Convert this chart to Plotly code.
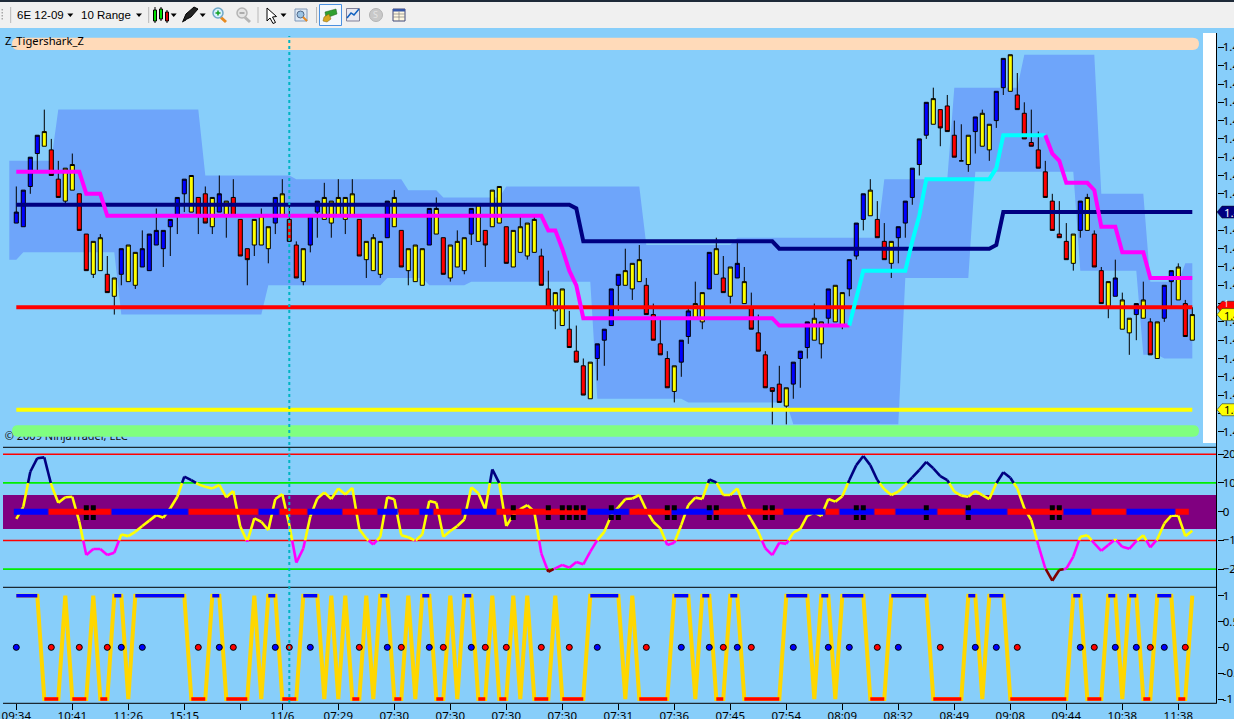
import numpy as np
import plotly.graph_objects as go

W, H = 1234, 719

# candles, in pips above 1.4700
bar_color = ("BBBBYRRYYRRYYRYBYYBBBBBBBYRRYBYRRRYYYBYRRYBBYYYYYRYYYBYRYYYBYRYYYBYRYYRYYYYRRYYRRRYBBBB"
             "YYYRRRRYBBYYBYRYBYRRRRRYBBBYYBYYBBBYRRYBBBBBYRRRRYBYYBBYRRRRRRRRYBYRRYBYYBYRYBBYRY")
bar_high = [67, 66, 75, 81, 88, 80, 74, 72, 76, 65, 54, 52, 54, 48, 42, 50, 51, 49, 55, 54,
            61, 55, 58, 64, 69, 70, 64, 67, 64, 70, 63, 69, 58, 50, 58, 61, 56, 64, 69, 62,
            52, 50, 59, 63, 68, 63, 69, 64, 69, 58, 52, 54, 52, 63, 66, 55, 50, 51, 50, 61,
            64, 53, 51, 55, 53, 61, 62, 55, 66, 67, 56, 55, 59, 57, 59, 50, 44, 38, 39, 33,
            29, 20, 19, 24, 28, 39, 43, 50, 46, 51, 42, 35, 31, 22, 18, 25, 34, 41, 38, 49,
            53, 48, 45, 52, 45, 38, 32, 22, 12, 18, 12, 19, 22, 30, 35, 30, 39, 40, 38, 47,
            57, 65, 69, 63, 57, 52, 56, 63, 72, 80, 90, 94, 88, 92, 85, 84, 81, 86, 88, 84,
            93, 102, 103, 98, 90, 88, 82, 74, 65, 63, 57, 54, 63, 65, 55, 45, 41, 47, 38, 31,
            35, 41, 31, 30, 40, 44, 46, 36, 34]
bar_low = [57, 56, 65, 71, 78, 70, 64, 62, 66, 55, 44, 42, 44, 38, 32, 40, 41, 39, 45, 44,
           51, 45, 48, 54, 60, 60, 54, 57, 54, 60, 53, 59, 48, 40, 48, 51, 46, 54, 59, 52,
           42, 40, 49, 53, 58, 53, 59, 54, 59, 48, 42, 44, 42, 53, 56, 45, 40, 41, 40, 51,
           54, 43, 41, 45, 43, 51, 52, 45, 56, 57, 46, 45, 49, 47, 49, 40, 34, 28, 29, 23,
           19, 10, 9, 14, 18, 29, 33, 40, 36, 41, 32, 25, 21, 12, 8, 15, 24, 31, 28, 39,
           43, 38, 35, 42, 35, 28, 22, 12, 2, 8, 2, 9, 12, 20, 25, 20, 29, 30, 28, 37,
           47, 55, 59, 53, 47, 42, 46, 53, 62, 70, 80, 84, 78, 82, 75, 74, 71, 76, 78, 74,
           83, 92, 93, 88, 80, 78, 72, 64, 55, 53, 47, 44, 53, 55, 45, 35, 31, 37, 28, 21,
           25, 31, 21, 20, 30, 34, 36, 26, 25]
body_top = [60, 66, 75, 81, 82, 77, 69, 72, 73, 65, 54, 52, 53, 43, 42, 50, 51, 49, 50, 54,
            55, 55, 58, 64, 69, 70, 64, 65, 64, 65, 63, 64, 58, 50, 58, 59, 56, 64, 65, 58,
            51, 50, 59, 63, 64, 63, 64, 64, 65, 58, 52, 53, 52, 63, 64, 55, 50, 51, 50, 61,
            61, 53, 51, 52, 53, 61, 62, 55, 66, 67, 56, 55, 56, 57, 58, 48, 39, 38, 39, 28,
            22, 18, 19, 24, 28, 39, 43, 44, 46, 47, 40, 32, 24, 20, 18, 25, 33, 35, 38, 49,
            50, 42, 45, 46, 41, 34, 27, 21, 12, 13, 12, 19, 22, 30, 31, 30, 39, 40, 38, 47,
            57, 65, 66, 58, 52, 52, 56, 63, 72, 80, 90, 91, 88, 89, 81, 74, 81, 86, 87, 84,
            93, 102, 103, 92, 87, 79, 77, 71, 63, 54, 52, 54, 63, 64, 54, 44, 41, 42, 36, 31,
            35, 36, 30, 30, 40, 44, 45, 35, 32]
body_bottom = [57, 56, 67, 76, 78, 70, 64, 63, 66, 55, 44, 43, 44, 38, 37, 43, 41, 40, 45, 44,
               51, 50, 56, 59, 65, 60, 59, 57, 56, 60, 59, 59, 48, 47, 51, 51, 50, 57, 59, 52,
               42, 41, 51, 60, 58, 57, 59, 58, 59, 48, 47, 44, 43, 53, 56, 45, 44, 41, 40, 51,
               54, 43, 42, 45, 44, 54, 52, 51, 56, 57, 46, 45, 49, 48, 49, 40, 34, 33, 29, 23,
               19, 10, 9, 20, 25, 29, 40, 40, 39, 41, 32, 25, 21, 12, 11, 19, 26, 31, 30, 39,
               43, 38, 37, 42, 35, 28, 22, 12, 11, 8, 7, 13, 20, 23, 25, 24, 31, 30, 29, 39,
               48, 58, 59, 53, 47, 46, 53, 57, 64, 73, 81, 84, 83, 82, 75, 74, 73, 82, 78, 77,
               85, 94, 93, 88, 80, 78, 72, 64, 55, 53, 47, 46, 55, 55, 45, 35, 34, 37, 28, 27,
               32, 31, 21, 20, 31, 41, 36, 26, 25]

# shaded band, first value belongs to the slot before bar 0
band_upper = [74] * 7 + [88] * 21 + [70] * 13 + [69] * 16 + [66] * 5 + [64] * 9 + [67] * 20 + [51] * 13 \
    + [53] * 21 + [69] * 10 + [94] * 10 + [103] * 11 + [65] * 7 + [41] * 5 + [46] * 2
band_lower = [47] * 2 + [49] * 14 + [32] * 21 + [40] * 17 + [42] * 6 + [40] * 6 + [41] * 18 + [9] * 13 \
    + [8] * 15 + [2] * 16 + [42] * 10 + [71] * 15 + [44] * 9 + [21] * 3 + [20] * 5

# overlay lines on the price pane
slow_line = [62] * 80 + [61] + [52] * 28 + [50] * 31 + [51] + [60] * 28
fast_line = [71] * 10 + [65] * 3 + [59] * 63 + [55] * 2 + [50, 44, 40] + [31] * 28 + [29] * 11 \
    + [37] + [44] * 7 + [52, 59] + [69] * 10 + [72] + [81] * 7 + [76, 74] + [68] * 4 + [66] + [56] * 3 \
    + [49] * 4 + [42] * 7
fast_up_from, fast_up_to = 119, 147
resistance_level = 34
support_level = 6
last_price = 32

# oscillator
cci = [-25, 17, 139, 186, 189, 93, 31, 50, 52, -35, -151, -130, -130, -151, -143, -79, -85, -70, -50, -31,
       -12, -21, 12, 52, 122, 110, 95, 87, 81, 93, 50, 72, -52, -104, -23, -35, -64, 44, 61, -46,
       -177, -128, -17, 46, 67, 44, 81, 60, 83, -61, -93, -114, -87, 50, 43, -82, -89, -101, -79, 37,
       31, -87, -67, -50, -27, 85, 64, 8, 147, 99, -50, -12, 9, 23, 0, -145, -209, -197, -185, -195,
       -175, -183, -139, -99, -70, -12, 15, 44, 46, 58, 6, -35, -58, -116, -108, -46, 23, 49, 44, 112,
       102, 58, 58, 81, 15, -29, -70, -127, -151, -108, -112, -73, -60, -14, -3, -15, 44, 35, 54, 110,
       162, 194, 162, 110, 78, 58, 70, 93, 119, 145, 173, 151, 124, 110, 70, 56, 52, 72, 58, 44,
       99, 137, 118, 81, 12, -29, -116, -197, -240, -203, -198, -156, -87, -82, -110, -136, -116, -96, -122, -129,
       -102, -82, -124, -96, -41, -14, -14, -85, -66]
cci_red_levels = [200, -100]
cci_green_levels = [100, -200]
zero_runs = [5, 9, 11, 10, 3, 4, 5, 5, 3, 3, 2, 4, 5, 13, 6, 6, 6, 10, 6, 2, 5, 3, 6, 4, 6, 8, 4, 5, 7, 2]
square_upper = [10, 11, 71, 76, 78, 79, 80, 81, 85, 93, 94, 99, 100, 107, 108, 120, 121, 130, 136, 148, 149]
square_lower = [10, 11, 71, 76, 78, 79, 80, 81, 85, 86, 93, 94, 99, 100, 107, 108, 120, 121, 130, 136, 148, 149]
square_upper_value, square_lower_value = 14, -20

# signal pane
signal_runs = [4, 3, 1, 3, 1, 2, 2, 1, 8, 3, 2, 4, 1, 1, 2, 3, 3, 1, 1, 1, 1, 2, 1, 1, 2, 2, 1, 1, 2, 2, 1, 1, 2, 2, 1, 2,
               1, 1, 1, 3, 1, 4, 5, 1, 1, 5, 3, 1, 2, 2, 2, 6, 4, 1, 2, 1, 4, 3, 6, 5, 2, 1, 3, 9, 2, 3, 2, 1, 2, 2, 3, 2, 1]
dots_blue = [0, 15, 18, 29, 37, 42, 53, 59, 65, 83, 95, 99, 103, 111, 116, 119, 126, 137, 140, 152, 157, 160, 164]
dots_red = [5, 9, 13, 26, 31, 39, 49, 55, 61, 67, 70, 75, 79, 90, 101, 105, 123, 132, 143, 154, 162, 167]

# axes
time_ticks = [0, 8, 16, 24, 32, 38, 46, 54, 62, 70, 78, 86, 94, 102, 110, 118, 126, 134, 142, 150, 158, 166]
time_labels = ['09:34', '10:41', '11:26', '15:15', '', '11/6', '07:29', '07:30', '07:30', '07:30', '07:30',
               '07:31', '07:36', '07:45', '07:54', '08:09', '08:32', '08:49', '09:08', '09:44', '10:38', '11:38']
price_ticks = list(range(0, 110, 5))
covered_ticks = [5, 35, 60]  # these labels sit behind the price tags
cursor_bar = 39

BG = '#87CEFA'
BLUE, RED, YELLOW = '#0000FF', '#FF0000', '#FFFF00'
TICK_FONT = dict(family='Noto Sans', size=11.5, color='black')

bars = np.arange(len(cci))


def price(pips):
    return 1.47 + np.asarray(pips, dtype=float) / 10000


def px(x):
    return x / W


def py(y):
    return 1 - y / H


def price_y(pips):
    # pixel row of a price, used only for the tags on the axis
    return 431.7 - 3.66 * pips


def box(x0, y0, x1, y1, fill=None, line=None, width=1, layer='above'):
    return dict(type='rect', xref='paper', yref='paper', x0=px(x0), x1=px(x1), y0=py(y0), y1=py(y1), layer=layer,
                fillcolor=fill or 'rgba(0,0,0,0)', line=dict(color=line or 'rgba(0,0,0,0)', width=width if line else 0))


def seg(x0, y0, x1, y1, color='black', width=1, layer='above', dash='solid'):
    return dict(type='line', xref='paper', yref='paper', x0=px(x0), x1=px(x1), y0=py(y0), y1=py(y1), layer=layer,
                line=dict(color=color, width=width, dash=dash))


def poly(points, fill, line=None, width=1, layer='above', closed=True):
    path = 'M' + ' L'.join(f'{px(x):.5f},{py(y):.5f}' for x, y in points) + (' Z' if closed else '')
    return dict(type='path', xref='paper', yref='paper', path=path, layer=layer,
                fillcolor=fill or 'rgba(0,0,0,0)', line=dict(color=line or 'rgba(0,0,0,0)', width=width if line else 0))


def circle(cx, cy, r, fill, line=None, width=1):
    return dict(type='circle', xref='paper', yref='paper', x0=px(cx - r), x1=px(cx + r), y0=py(cy + r), y1=py(cy - r),
                layer='above', fillcolor=fill, line=dict(color=line or fill, width=width))


def rounded_strip(x0, y0, x1, y1, fill, layer):
    r = (y1 - y0) / 2
    path = (f'M{px(x0 + r):.5f},{py(y0):.5f} L{px(x1 - r):.5f},{py(y0):.5f} '
            f'Q{px(x1):.5f},{py(y0):.5f} {px(x1):.5f},{py(y0 + r):.5f} '
            f'Q{px(x1):.5f},{py(y1):.5f} {px(x1 - r):.5f},{py(y1):.5f} '
            f'L{px(x0 + r):.5f},{py(y1):.5f} '
            f'Q{px(x0):.5f},{py(y1):.5f} {px(x0):.5f},{py(y0 + r):.5f} '
            f'Q{px(x0):.5f},{py(y0):.5f} {px(x0 + r):.5f},{py(y0):.5f} Z')
    return dict(type='path', xref='paper', yref='paper', path=path, fillcolor=fill, layer=layer, line=dict(width=0))


def split_by_level(values, low, high):
    # pieces of the polyline that lie between two levels, cut exactly at the crossings
    xs, ys = [], []
    for i in range(len(values) - 1):
        a, b = values[i], values[i + 1]
        if a == b:
            t0, t1 = (0, 1) if low <= a <= high else (1, 0)
        else:
            ta, tb = (low - a) / (b - a), (high - a) / (b - a)
            t0, t1 = max(0, min(ta, tb)), min(1, max(ta, tb))
        if t0 < t1:
            xs += [i + t0, i + t1, None]
            ys += [a + (b - a) * t0, a + (b - a) * t1, None]
    return xs, ys


def runs_to_segments(runs, keep_blue):
    # one stroke per run for the zero line
    xs, start = [], 0
    for k, n in enumerate(runs):
        if (k % 2 == 0) == keep_blue:
            xs += [start - 0.35, start + n - 0.5, None]
        start += n
    return xs


signal = np.repeat([1 if k % 2 == 0 else -1 for k in range(len(signal_runs))], signal_runs)

fig = go.Figure()

# band sits on the base axis, candles and lines on overlays so the order stays band < candles < lines
band_x = np.arange(-1, len(band_upper) - 1)
fig.add_trace(go.Scatter(x=np.r_[band_x, band_x[::-1]], y=price(band_upper + band_lower[::-1]), mode='lines',
                         fill='toself', fillcolor='#6EA5FA', line=dict(width=0), hoverinfo='skip', yaxis='y'))

for code, colour in zip('BRY', (BLUE, RED, YELLOW)):
    idx = [i for i, c in enumerate(bar_color) if c == code]
    if code == 'R':
        opens, closes = [body_top[i] for i in idx], [body_bottom[i] for i in idx]
    else:
        opens, closes = [body_bottom[i] for i in idx], [body_top[i] for i in idx]
    side = dict(fillcolor=colour, line=dict(color='black', width=1))
    fig.add_trace(go.Candlestick(x=idx, open=price(opens), close=price(closes),
                                 high=price([bar_high[i] for i in idx]), low=price([bar_low[i] for i in idx]),
                                 increasing=side, decreasing=side, whiskerwidth=0, yaxis='y2', showlegend=False))


def main_line(x, y, colour, width):
    fig.add_trace(go.Scatter(x=x, y=price(y), mode='lines', line=dict(color=colour, width=width), yaxis='y3'))


main_line(bars, [support_level] * len(bars), YELLOW, 4)
main_line(bars, slow_line, '#000080', 4)
main_line(bars, [resistance_level] * len(bars), RED, 4)
main_line(bars[:fast_up_from + 1], fast_line[:fast_up_from + 1], '#FF00FF', 4)
main_line(bars[fast_up_from:fast_up_to + 1], fast_line[fast_up_from:fast_up_to + 1], '#00FFFF', 4)
main_line(bars[fast_up_to:], fast_line[fast_up_to:], '#FF00FF', 4)

fig.add_trace(go.Scatter(x=[-1.65], y=price([-1.5]), mode='text', text=['© 2009 NinjaTrader, LLC'],
                         textposition='middle right', textfont=dict(family='Noto Sans', size=11, color='#111111'),
                         yaxis='y3'))

# oscillator pane
for low, high, colour in ((-100, 100, YELLOW), (100, 400, '#000080'), (-200, -100, '#FF00FF'), (-400, -200, '#800000')):
    xs, ys = split_by_level(cci, low, high)
    fig.add_trace(go.Scatter(x=xs, y=ys, mode='lines', line=dict(color=colour, width=2.6), yaxis='y4'))

for is_blue, colour in ((True, BLUE), (False, RED)):
    xs = runs_to_segments(zero_runs, is_blue)
    ys = [None if v is None else 0 for v in xs]
    fig.add_trace(go.Scatter(x=xs, y=ys, mode='lines', line=dict(color=colour, width=6), yaxis='y4'))

fig.add_trace(go.Scatter(x=square_upper + square_lower,
                         y=[square_upper_value] * len(square_upper) + [square_lower_value] * len(square_lower),
                         mode='markers', marker=dict(symbol='square', size=5, color='black', line=dict(width=0)),
                         yaxis='y4'))

# signal pane
fig.add_trace(go.Scatter(x=bars, y=signal, mode='lines', line=dict(color='#FFD700', width=4), yaxis='y5'))
for level, colour in ((1, BLUE), (-1, RED)):
    xs, ys = [], []
    for i in range(len(signal) - 1):
        if signal[i] == level and signal[i + 1] == level:
            if xs and xs[-1] == i:
                xs.append(i + 1)
                ys.append(level)
            else:
                xs += [None, i, i + 1]
                ys += [None, level, level]
    fig.add_trace(go.Scatter(x=xs, y=ys, mode='lines', line=dict(color=colour, width=3.4), yaxis='y5'))
for where, colour in ((dots_blue, BLUE), (dots_red, RED)):
    fig.add_trace(go.Scatter(x=where, y=[0] * len(where), mode='markers', yaxis='y5',
                             marker=dict(size=6, color=colour, line=dict(color='black', width=1))))

# window furniture
shapes = [
    box(0, 0, W, 28, '#F0F0F0', layer='below'),
    box(0, 0, W, 2, '#1E2A38', layer='below'),
    box(1203, 33, 1216.5, 443, 'white', layer='below'),
    rounded_strip(12, 37.7, 1199, 50, '#FFDAB9', 'below'),
    box(3, 495, 1216.5, 529, '#800080', layer='below'),
    seg(1216.5, 33, 1216.5, 703.5, layer='above'),
]
for y in (447.3, 587.3, 703.3):
    shapes.append(seg(3, y, 1216.5, y))
shapes.append(rounded_strip(12, 425.3, 1199, 436.7, '#80FF80', 'above'))
for level in cci_red_levels:
    shapes.append(dict(type='line', xref='paper', yref='y4', x0=px(3), x1=px(1216.5), y0=level, y1=level, layer='below',
                       line=dict(color=RED, width=1.5)))
for level in cci_green_levels:
    shapes.append(dict(type='line', xref='paper', yref='y4', x0=px(3), x1=px(1216.5), y0=level, y1=level, layer='below',
                       line=dict(color='#00EE00', width=1.8)))
shapes.append(dict(type='line', xref='x', yref='paper', x0=cursor_bar, x1=cursor_bar, y0=py(703), y1=py(36), layer='above',
                   line=dict(color='#00B4C4', width=2, dash='dot')))


# price tags on the axis, drawn bottom up so the last close sits over the red one
def tag(pips, fill):
    yc = price_y(pips)
    return poly([(1217, yc), (1222, yc - 6), (1236, yc - 6), (1236, yc + 6), (1222, yc + 6)], fill, '#101010', 0.5)


shapes += [tag(support_level, YELLOW), tag(slow_line[-1], '#000080'), tag(resistance_level, RED), tag(last_price, YELLOW)]

# toolbar: separators, dropdown arrows and the icons
for x in (10.7, 148.7, 258, 316.5):
    shapes.append(seg(x, 7, x, 23, '#B8B8B8', 1))
for y in (9, 12, 15, 18):
    shapes.append(box(1.5, y, 3, y + 1.5, '#A8A8A8'))
for x in (70.3, 139, 173.7, 202.7, 283.5):
    shapes.append(poly([(x - 3, 13.5), (x + 3, 13.5), (x, 17)], 'black'))
for x, y0, y1, t0, t1, colour in ((155, 10, 21, 7, 23, '#00E000'), (161, 9, 19, 7, 21, '#00E000'), (167, 12, 21, 10, 23, '#E00000')):
    shapes.append(seg(x, t0, x, t1, 'black', 1))
    shapes.append(box(x - 1.5, y0, x + 1.5, y1, colour, 'black', 1))
shapes.append(poly([(183, 21), (186, 14), (194, 7), (198, 9), (191, 17), (185, 20)], '#222222', 'black', 1))
shapes.append(seg(182, 22, 186, 20, 'black', 1))
for cx, lens, rim, inner in ((218, '#E88A20', '#6FA8C8', '#D8F0FF'), (242, '#B5B5B5', '#B5B5B5', '#E4E4E4')):
    shapes.append(seg(cx + 3, 17.5, cx + 8, 22, lens, 3))
    shapes.append(circle(cx, 13, 5, inner, rim, 1.5))
shapes.append(seg(215.5, 13, 220.5, 13, '#10A020', 1.5))
shapes.append(seg(218, 10.5, 218, 15.5, '#10A020', 1.5))
shapes.append(seg(239.5, 13, 244.5, 13, '#9A9A9A', 1.5))
shapes.append(poly([(267, 8), (267, 21), (270, 18), (273, 23.5), (275.5, 22.5), (272.5, 17), (276.5, 16.5)], 'white', 'black', 1))
shapes.append(box(295, 9, 307, 21, '#DCE8F4', '#8098B8', 1))
shapes.append(circle(300.5, 14.5, 3.5, '#9CC4E4', '#506888', 1))
shapes.append(seg(303, 17, 307, 21, '#E88A20', 2))
shapes.append(box(319.5, 4.5, 341.5, 25.5, '#F4F8FC', '#4A90E0', 1))
shapes.append(poly([(325, 12), (336, 9), (337, 14), (326, 18)], '#30A030', '#206020', 0.5))
shapes.append(poly([(324, 17), (329, 14), (331, 19), (327, 22), (323, 21)], '#D8A820', '#806010', 0.5))
shapes.append(box(346.5, 8.5, 359.5, 21, '#E8E8F0', '#808098', 1))
shapes.append(poly([(347, 18), (351, 13), (354, 15), (359, 9)], None, '#1060C0', 1.5, closed=False))
shapes.append(circle(376, 15, 6.5, '#C8C8C8', '#B4B4B4', 1))
shapes.append(box(393, 9, 405, 21, '#FFF8E0', '#404878', 1))
shapes.append(box(393, 9, 405, 11.5, '#3858A8'))
for y in (14, 17):
    shapes.append(seg(393, y, 405, y, '#808080', 0.7))
shapes.append(seg(399, 11.5, 399, 21, '#808080', 0.7))
fig.update_layout(shapes=shapes)


def label(x, y, text, size=12, colour='black', family='Noto Sans'):
    fig.add_annotation(x=px(x), y=py(y), xref='paper', yref='paper', text=text, showarrow=False, xanchor='left',
                       yanchor='middle', font=dict(family=family, size=size, color=colour), borderpad=0, borderwidth=0)


label(17, 15, '6E 12-09', 11.5, family='Liberation Sans')
label(81, 15, '10 Range', 11.5, family='Liberation Sans')
label(5, 40.5, 'Z_Tigershark_Z', 11.2)
label(1224, price_y(slow_line[-1]), f'{float(price(slow_line[-1])):.4f}', 11.5, 'white')
label(1224, price_y(resistance_level) - 3.5, '1', 8, 'white')
label(1224, price_y(last_price) + 1, f'{float(price(last_price)):.4f}', 11)
label(1224, price_y(support_level), f'{float(price(support_level)):.4f}', 11.5)
label(372.7, 15, 'S', 9, '#E4E4E4')

x_range = [(0 - 16.3) / 7, (1216.5 - 16.3) / 7]
price_range = [float(price(-3.09)), float(price(110.3))]
right_edge = px(1216.5)
main_domain = [py(443), py(28)]
overlay = dict(overlaying='y', range=price_range, visible=False, domain=main_domain, anchor='x')
price_labels = ['' if p in covered_ticks else f'{float(price(p)):.4f}' for p in price_ticks]

fig.update_layout(
    width=W, height=H, autosize=False,
    margin=dict(l=0, r=0, t=0, b=0, pad=0),
    paper_bgcolor=BG, plot_bgcolor='rgba(0,0,0,0)',
    showlegend=False, hovermode=False,
    boxmode='overlay', boxgap=0.42, boxgroupgap=0,
    xaxis=dict(domain=[0, right_edge], range=x_range, anchor='y5', showgrid=False, zeroline=False, automargin=False,
               rangeslider=dict(visible=False), tickmode='array', tickvals=time_ticks, ticktext=time_labels,
               ticks='outside', ticklen=6, tickcolor='black', tickangle=0, tickfont=TICK_FONT,
               ticklabeloverflow='allow', ticklabelstandoff=-4),
    yaxis=dict(domain=main_domain, range=price_range, anchor='x', side='right', showgrid=False, zeroline=False, automargin=False,
               tickmode='array', tickvals=price(price_ticks).tolist(), ticktext=price_labels,
               ticks='outside', ticklen=6, tickcolor='black', tickfont=TICK_FONT, ticklabeloverflow='allow', ticklabelstandoff=-3),
    yaxis2=overlay,
    yaxis3=overlay,
    yaxis4=dict(domain=[py(587.3), py(447.3)], range=[-263, 224], anchor='x', side='right', showgrid=False, zeroline=False,
                automargin=False, tickmode='array', tickvals=[200, 100, 0, -100, -200], ticks='outside', ticklen=6,
                tickcolor='black', tickfont=TICK_FONT, ticklabeloverflow='allow', ticklabelstandoff=-3),
    yaxis5=dict(domain=[py(703.3), py(587.3)], range=[-1.083, 1.163], anchor='x', side='right', showgrid=False, zeroline=False,
                automargin=False, tickmode='array', tickvals=[1, 0.5, 0, -0.5, -1], ticktext=['1', '0.5', '0', '-0.5', '-1'],
                ticks='outside', ticklen=6, tickcolor='black', tickfont=TICK_FONT, ticklabeloverflow='allow', ticklabelstandoff=-3),
)

assert len(bar_color) == len(bar_high) == len(bar_low) == len(body_top) == len(body_bottom) == len(cci) == 169
assert len(signal) == 169 and len(fast_line) == 169 and len(slow_line) == 169 and len(band_upper) == len(band_lower) == 170

fig.write_html("out.html", config=dict(displayModeBar=False), post_script="document.body.style.margin='0';document.body.style.overflow='hidden';")
